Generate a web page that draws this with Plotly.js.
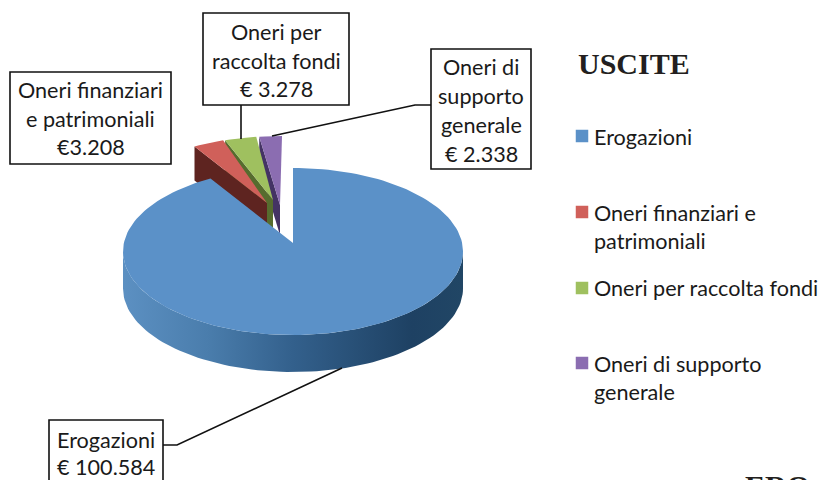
<!DOCTYPE html>
<html><head><meta charset="utf-8">
<script src="https://cdn.plot.ly/plotly-3.0.1.min.js"></script>
<style>html,body{margin:0;padding:0;background:#fff;overflow:hidden}#c{width:824px;height:480px}</style>
</head><body><div id="c"></div>
<script>
// --- data
const categories = ['Erogazioni','Oneri finanziari e patrimoniali','Oneri per raccolta fondi','Oneri di supporto generale'];
const values = [100584, 3208, 3278, 2338];
const topColors = ['#5B91C8','#D0605A','#9FC05F','#8B6DB1'];
const wallColors = ['#2F5B88','#5E2420','#566C2E','#443364'];
const calloutLines = [['Erogazioni','€ 100.584'],['Oneri finanziari','e patrimoniali','€3.208'],['Oneri per','raccolta fondi','€ 3.278'],['Oneri di','supporto','generale','€ 2.338']];
const legendLines = [['Erogazioni'],['Oneri finanziari e','patrimoniali'],['Oneri per raccolta fondi'],['Oneri di supporto','generale']];
const chartTitle = 'USCITE';
const cornerText = 'ERO';

// --- pie projection settings
const pie = {cx:293, cy:251.5, rx:170, ry:83.5, apexY:243, depth:37};
const rimShift = [[0,0],[-16,-32],[-14,-32],[-11,-32]];
const apexPos = [[293,243],[267,203],[273,200],[280,205]];
const sliceDepth = [37,34,34,30];
const calloutBox = [[49,163,420,481],[10,171,72,164],[203,349,13,105],[431,531,49,169]];
const calloutLineY = [[440,467],[90,119,147],[32,61,89],[67,96,125,154]];
const leaders = [[[163,445],[177,445],[342,368]],[],[[241,105],[241,139]],[[431,105],[415,105],[272,136]]];
const legendY = [[137],[213,241],[288],[364,392]];
const legendKeyY = [136,212,288,363];

const total = values.reduce((a,b)=>a+b,0);
const rim = (deg,s=[0,0],dy=0)=>{const a=deg*Math.PI/180;
  return [pie.cx+pie.rx*Math.sin(a)+s[0], pie.cy-pie.ry*Math.cos(a)+s[1]+dy];};
function arc(a0,a1,s,dy){const n=Math.max(2,Math.ceil(Math.abs(a1-a0)/2));const o=[];
  for(let i=0;i<=n;i++)o.push(rim(a0+(a1-a0)*i/n,s,dy));return o;}
function poly(pts,color,name,extra){return Object.assign({type:'scatter',mode:'lines',
  x:pts.map(p=>p[0]).concat([pts[0][0]]),y:pts.map(p=>p[1]).concat([pts[0][1]]),
  fill:'toself',fillcolor:color,line:{width:0,color:color},name:name,hoverinfo:'name',showlegend:false},extra||{});}

// slice angles from the values, clockwise from 12 o'clock
let acc=0;const spans=values.map(v=>{const a=[acc,acc+v/total*360];acc=a[1];return a;});

const traces=[];
// exploded slices back-to-front: last slice first
for(let i=values.length-1;i>=1;i--){
  const [a0,a1]=spans[i],s=rimShift[i],ap=apexPos[i],d=sliceDepth[i];
  const r0=rim(a0,s);
  traces.push(poly([r0,ap,[ap[0],ap[1]+d],[r0[0],r0[1]+d]],wallColors[i],categories[i]+' (lato)'));
  traces.push(poly([ap].concat(arc(a0,a1,s,0)),topColors[i],categories[i]));
}
// main slice wall with horizontal shading, then top face
traces.push(poly(arc(90,270,[0,0],0).concat(arc(270,90,[0,0],pie.depth)),wallColors[0],categories[0]+' (lato)',
 {fillgradient:{type:'horizontal',colorscale:[[0,'#5C90C2'],[0.25,'#4A7DAC'],[0.5,'#33608C'],[0.85,'#1E4163'],[1,'#214665']]}}));
traces.push(poly([apexPos[0]].concat(arc(spans[0][0],spans[0][1],[0,0],0)),topColors[0],categories[0]));

// leader lines
leaders.forEach(l=>{if(l.length)traces.push({type:'scatter',mode:'lines',x:l.map(p=>p[0]),y:l.map(p=>p[1]),
  line:{color:'#111',width:1.6},hoverinfo:'skip',showlegend:false});});

// legend keys
traces.push({type:'scatter',mode:'markers',x:categories.map(()=>582),y:legendKeyY,
  marker:{symbol:'square',size:12.5,color:topColors,line:{width:0}},text:categories,hoverinfo:'text',showlegend:false});

const ann=[];
const txt=(x,y,t,o)=>ann.push(Object.assign({xref:'x',yref:'y',x:x,y:y,text:t,showarrow:false,xanchor:'center',yanchor:'middle',
  font:{family:'Lato, sans-serif',size:21.6,color:'#1a1a1a'}},o||{}));
calloutLines.forEach((ls,i)=>{const b=calloutBox[i];ls.forEach((t,j)=>txt((b[0]+b[1])/2,calloutLineY[i][j],t));});
legendLines.forEach((ls,i)=>ls.forEach((t,j)=>txt(592,legendY[i][j],t,{xanchor:'left'})));
txt(576,63,chartTitle,{xanchor:'left',font:{family:'Liberation Serif, serif',size:30,color:'#231f20',weight:'bold'}});
txt(743,467,cornerText,{xanchor:'left',yanchor:'top',font:{family:'Liberation Serif, serif',size:30,color:'#231f20',weight:'bold'}});

const shapes=calloutBox.map(b=>({type:'rect',xref:'x',yref:'y',x0:b[0],x1:b[1],y0:b[2],y1:b[3],
  line:{color:'#111',width:1.6},fillcolor:'rgba(0,0,0,0)',layer:'above'}));

Plotly.newPlot('c',traces,{width:824,height:480,margin:{l:0,r:0,t:0,b:0},paper_bgcolor:'#fff',plot_bgcolor:'#fff',showlegend:false,
  xaxis:{range:[0,824],visible:false,fixedrange:true},yaxis:{range:[480,0],visible:false,fixedrange:true},
  annotations:ann,shapes:shapes},{displayModeBar:false,staticPlot:true});
</script></body></html>
